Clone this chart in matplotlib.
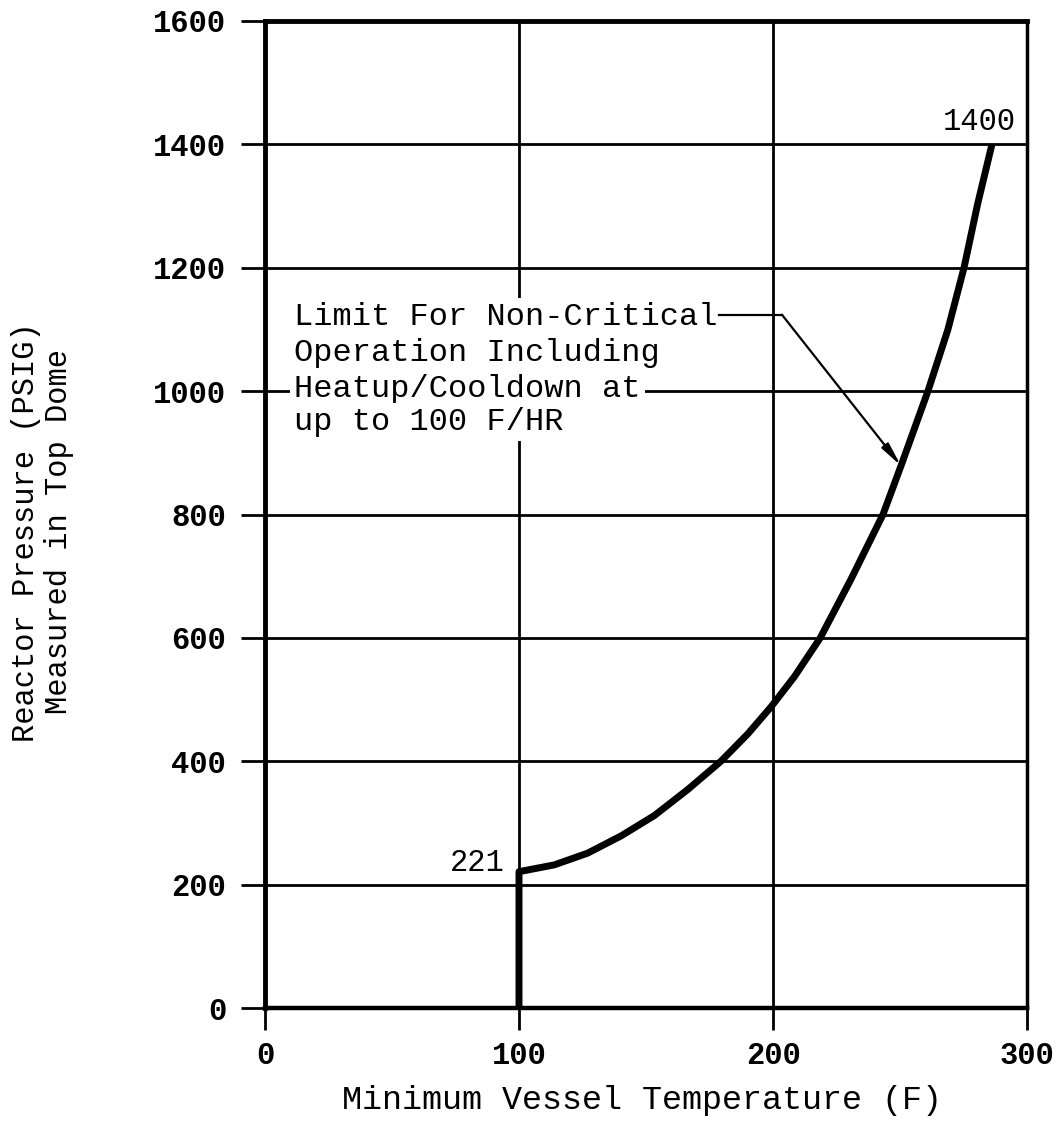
import matplotlib
matplotlib.use("Agg")
import matplotlib.pyplot as plt

# ---- data ----
temperature_F = [100, 100, 113.9, 127.0, 140.2, 153.3, 166.4, 179.5, 190.0,
                 199.2, 208.4, 218.6, 230.7, 243.3, 250.4, 261.0, 268.8,
                 275.2, 280.6, 286.2]
pressure_psig = [0, 221, 232, 251, 279, 312, 354, 400, 444,
                 488, 537, 600, 695, 800, 879, 1000, 1099,
                 1200, 1304, 1400]
x_ticks = [0, 100, 200, 300]
y_ticks = [0, 200, 400, 600, 800, 1000, 1200, 1400, 1600]
start_label = "221"
end_label = "1400"
note_lines = ["Limit For Non-Critical",
              "Operation Including",
              "Heatup/Cooldown at",
              "up to 100 F/HR"]
note_line_p = [1120, 1062, 1003, 950]

FONT = "Liberation Mono"
W, H = 1059, 1126
fig = plt.figure(figsize=(W / 100, H / 100), dpi=100)
ax = fig.add_axes([265 / W, 1 - 1008 / H, (1027 - 265) / W, (1008 - 21) / H])

ax.set_xlim(0, 300)
ax.set_ylim(0, 1600)
ax.set_xticks(x_ticks)
ax.set_yticks(y_ticks)
ax.set_xticklabels([str(v) for v in x_ticks], fontfamily=FONT,
                   fontweight="bold", fontsize=22)
ax.set_yticklabels([str(v) for v in y_ticks], fontfamily=FONT,
                   fontweight="bold", fontsize=22)
ax.tick_params(axis="x", length=16, width=2.0, pad=8, direction="out")
ax.tick_params(axis="y", length=17, width=2.0, pad=11, direction="out")
ax.grid(True, color="black", lw=2.0)
ax.set_axisbelow(True)
for side, lw in [("top", 3.5), ("left", 3.5), ("bottom", 3.2), ("right", 2.5)]:
    ax.spines[side].set_linewidth(lw)
    ax.spines[side].set_color("black")

# limit curve
ax.plot(temperature_F, pressure_psig, color="black", lw=5,
        solid_joinstyle="round", solid_capstyle="butt", zorder=5)

# end-point labels
ax.text(94.5, 235, start_label, ha="right", va="center",
        fontfamily=FONT, fontsize=22, zorder=6)
ax.text(295.5, 1436, end_label, ha="right", va="center",
        fontfamily=FONT, fontsize=22, zorder=6)

# annotation (each line masks the grid behind it) with leader line
for line, p in zip(note_lines, note_line_p):
    ax.text(11.4, p, line, ha="left", va="center", fontfamily=FONT,
            fontsize=23, zorder=6,
            bbox=dict(facecolor="white", edgecolor="none", pad=3))
ax.plot([178.7, 203.5], [1124, 1124], color="black", lw=1.6, zorder=7)
ax.annotate("", xy=(250.4, 879), xytext=(203.5, 1124),
            arrowprops=dict(arrowstyle="-|>,head_length=1.4,head_width=0.25",
                            color="black", lw=1.6, shrinkA=0, shrinkB=0),
            zorder=7)

# axis labels
fig.text(642 / W, 1 - 1100 / H, "Minimum Vessel Temperature (F)",
         ha="center", va="center", fontfamily=FONT, fontsize=24)
fig.text(26 / W, 1 - 532 / H, "Reactor Pressure (PSIG)",
         ha="center", va="center", rotation=90, fontfamily=FONT, fontsize=22)
fig.text(59 / W, 1 - 532 / H, "Measured in Top Dome",
         ha="center", va="center", rotation=90, fontfamily=FONT, fontsize=22)

fig.savefig("out.png", dpi=100, facecolor="white")
